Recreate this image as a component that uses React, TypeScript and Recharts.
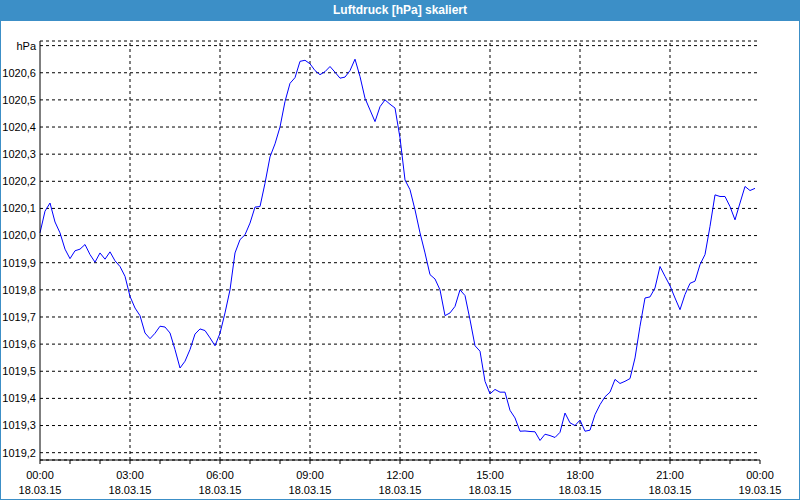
import { CartesianGrid, Line, LineChart, ReferenceLine, XAxis, YAxis } from "recharts";

// Luftdruck in hPa, one reading every 10 minutes from 18.03.15 00:00
const pressure = [
  1020.01, 1020.09, 1020.12, 1020.05, 1020.01, 1019.95, 1019.915, 1019.944, 1019.95, 1019.967,
  1019.93, 1019.902, 1019.936, 1019.913, 1019.94, 1019.907, 1019.886, 1019.85, 1019.776, 1019.733,
  1019.705, 1019.641, 1019.62, 1019.64, 1019.666, 1019.663, 1019.641, 1019.58, 1019.512, 1019.537,
  1019.58, 1019.637, 1019.656, 1019.65, 1019.623, 1019.594, 1019.64,
  1019.715, 1019.8, 1019.936, 1019.985, 1020.003, 1020.046, 1020.105, 1020.107, 1020.193, 1020.29,
  1020.338, 1020.4, 1020.494, 1020.561, 1020.582, 1020.642, 1020.646, 1020.633, 1020.608, 1020.593,
  1020.604, 1020.623, 1020.602, 1020.58, 1020.584, 1020.608, 1020.65, 1020.586, 1020.506, 1020.463,
  1020.42, 1020.475, 1020.5, 1020.484, 1020.47,
  1020.36, 1020.205, 1020.169, 1020.095, 1020.01, 1019.936, 1019.856, 1019.84, 1019.8, 1019.705,
  1019.715, 1019.739, 1019.8, 1019.779, 1019.69, 1019.594, 1019.574, 1019.463, 1019.417, 1019.433,
  1019.423, 1019.423, 1019.356, 1019.328, 1019.279, 1019.28, 1019.278, 1019.277, 1019.245, 1019.268,
  1019.263, 1019.256, 1019.275, 1019.346, 1019.31, 1019.3,
  1019.32, 1019.279, 1019.283, 1019.34, 1019.377, 1019.406, 1019.423, 1019.47, 1019.455, 1019.463,
  1019.473, 1019.549, 1019.666, 1019.77, 1019.774, 1019.807, 1019.886, 1019.85, 1019.815, 1019.77,
  1019.727, 1019.783, 1019.824, 1019.832, 1019.893, 1019.93, 1020.034, 1020.15, 1020.144, 1020.144,
  1020.107, 1020.058, 1020.12, 1020.181, 1020.166, 1020.174,
];

const STEP_HOURS = 10 / 60;

const hourTicks = [0, 1, 2, 3, 4, 5, 6, 7, 8, 9, 10, 11, 12, 13, 14, 15, 16, 17, 18, 19, 20, 21, 22, 23, 24];
const gridHours = [3, 6, 9, 12, 15, 18, 21];
const timeLabels: Record<number, string> = {
  0: "00:00", 3: "03:00", 6: "06:00", 9: "09:00", 12: "12:00",
  15: "15:00", 18: "18:00", 21: "21:00", 24: "00:00",
};
const dateLabels: Record<number, string> = {
  0: "18.03.15", 3: "18.03.15", 6: "18.03.15", 9: "18.03.15", 12: "18.03.15",
  15: "18.03.15", 18: "18.03.15", 21: "18.03.15", 24: "19.03.15",
};
const yTicks = [1019.2, 1019.3, 1019.4, 1019.5, 1019.6, 1019.7, 1019.8, 1019.9,
  1020.0, 1020.1, 1020.2, 1020.3, 1020.4, 1020.5, 1020.6, 1020.7];

const data = pressure.map((p, i) => ({ t: i * STEP_HOURS, p }));

const FONT = "'Liberation Sans', Arial, sans-serif";
const BLUE = "#3c8fc7";

const formatY = (v: number) => (v > 1020.65 ? "hPa" : v.toFixed(1).replace(".", ","));

const HourTick = (props: any) => {
  const { x, y, payload } = props;
  const v = payload.value;
  if (timeLabels[v] === undefined) return null;
  return (
    <text x={x} y={y} textAnchor="middle" fontSize={11} fontFamily={FONT} fill="#000">
      <tspan x={x} dy={15}>{timeLabels[v]}</tspan>
      <tspan x={x} dy={15}>{dateLabels[v]}</tspan>
    </text>
  );
};

export default function App() {
  return (
    <div style={{ position: "absolute", left: 0, top: 0, width: 800, height: 500, background: "#fff", overflow: "hidden" }}>
      <div style={{ position: "absolute", left: 0, top: 0 }}>
        <LineChart width={800} height={500} data={data} margin={{ top: 41, right: 40, bottom: 0, left: 0 }}>
          <CartesianGrid vertical={false} stroke="#000" strokeDasharray="3 3" />
          {gridHours.map((h) => (
            <ReferenceLine key={h} x={h} stroke="#000" strokeDasharray="3 3" />
          ))}
          <XAxis
            type="number"
            dataKey="t"
            domain={[0, 24]}
            ticks={hourTicks}
            interval={0}
            height={40}
            tickSize={4}
            tickMargin={0}
            axisLine={{ stroke: "#000" }}
            tickLine={{ stroke: "#000" }}
            tick={<HourTick />}
          />
          <XAxis xAxisId="top" orientation="top" type="number" domain={[0, 24]} height={0} tick={false} tickLine={false} axisLine={{ stroke: "#000" }} />
          <YAxis
            type="number"
            domain={[1019.173, 1020.717]}
            ticks={yTicks}
            interval={0}
            width={40}
            tickSize={0}
            tickMargin={4}
            axisLine={{ stroke: "#000" }}
            tickLine={false}
            tick={{ fontSize: 11, fontFamily: FONT, fill: "#000" }}
            tickFormatter={formatY}
          />
          <YAxis yAxisId="right" orientation="right" type="number" domain={[1019.173, 1020.717]} width={0} tick={false} tickLine={false} axisLine={{ stroke: "#000" }} />
          <Line type="linear" dataKey="p" stroke="#0000ff" strokeWidth={1} dot={false} isAnimationActive={false} />
        </LineChart>
      </div>
      <div
        style={{
          position: "absolute", left: 0, top: 0, width: 800, height: 21, background: BLUE,
          color: "#fff", fontFamily: FONT, fontWeight: "bold", fontSize: 12,
          lineHeight: "21px", textAlign: "center",
        }}
      >
        Luftdruck [hPa] skaliert
      </div>
      <div
        style={{
          position: "absolute", left: 0, top: 0, width: 800, height: 500, boxSizing: "border-box",
          border: `1px solid ${BLUE}`, pointerEvents: "none",
        }}
      />
    </div>
  );
}
